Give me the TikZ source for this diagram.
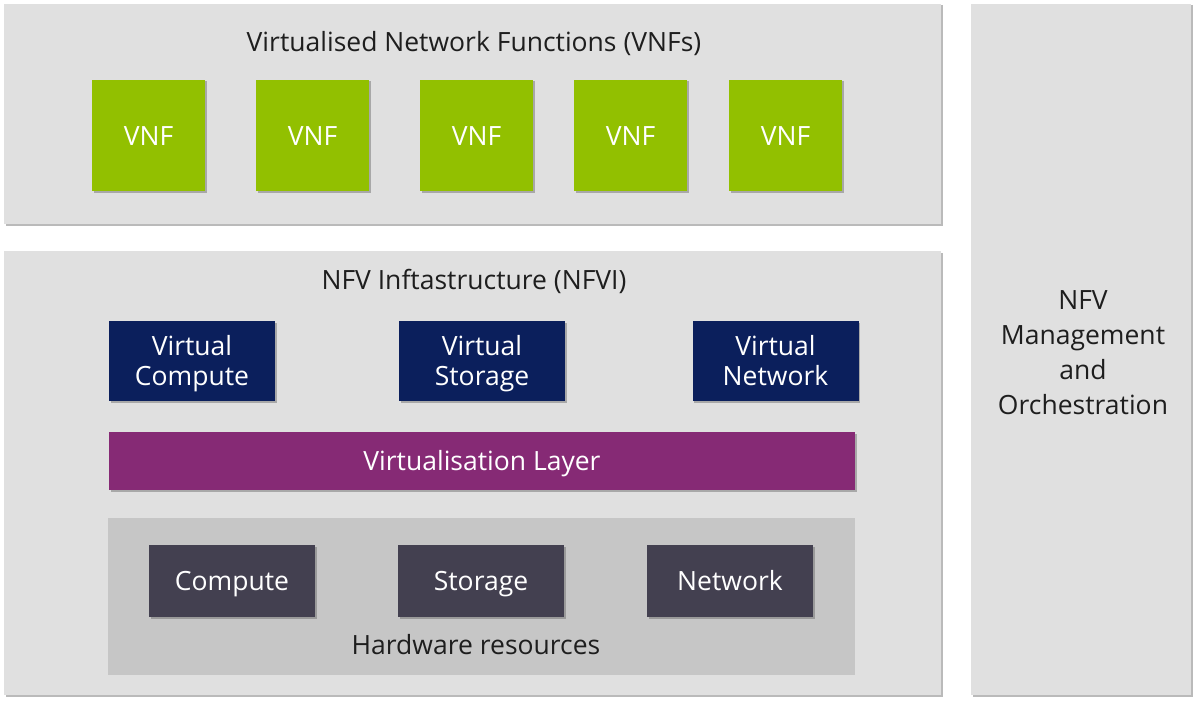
\documentclass[tikz,border=0pt]{standalone}
\usepackage{fontspec}
\setmainfont{Open Sans}
\usetikzlibrary{shadows}
\definecolor{panel}{HTML}{E0E0E0}
\definecolor{vnfgreen}{HTML}{92C000}
\definecolor{navy}{HTML}{0B1F5C}
\definecolor{vlpurple}{HTML}{862A75}
\definecolor{hwgray}{HTML}{C6C6C6}
\definecolor{hwdark}{HTML}{434050}
\definecolor{txt}{HTML}{1E1E1E}
\tikzset{
  shad/.style={drop shadow={shadow xshift=1.5pt,shadow yshift=-1.5pt,opacity=0.45,fill=black!60}},
  bigfont/.style={font=\fontsize{26.5}{29.5}\selectfont},
  capsmid/.style={text height=19pt,text depth=0pt},
  panelbox/.style={rectangle,fill=panel,inner sep=0pt,shad},
  vnfbox/.style={rectangle,fill=vnfgreen,inner sep=0pt,minimum width=113pt,minimum height=111pt,text=white,bigfont,capsmid,shad},
  virtbox/.style={rectangle,fill=navy,inner sep=0pt,minimum width=166pt,minimum height=80pt,text=white,align=center,bigfont,text depth=1pt,shad},
  hwbox/.style={rectangle,fill=hwdark,inner sep=0pt,minimum width=166pt,minimum height=72pt,text=white,bigfont,capsmid,shad},
  title/.style={text=txt,font=\fontsize{26.5}{35}\selectfont,align=center,inner sep=0pt},
}
\begin{document}
\begin{tikzpicture}[x=1pt,y=-1pt]
\useasboundingbox (0,0) rectangle (1200,701);
\fill[white] (0,0) rectangle (1200,701);
\node[panelbox,minimum width=937pt,minimum height=220pt] (vnfp) at (472.5,114) {};
\node[panelbox,minimum width=937pt,minimum height=444pt] (nfvi) at (472.5,473) {};
\node[panelbox,minimum width=220pt,minimum height=691pt] (mano) at (1081,349.5) {};
\node[title,capsmid] (vnft) at (474,42) {Virtualised Network Functions (VNFs)};
\node[title,capsmid] (nfvit) at (474,280) {NFV Inftastructure (NFVI)};
\node[title] (manot) at (1083,352.5) {NFV\\Management\\and\\Orchestration};
\node[vnfbox] (v1) at (148.5,135.5) {VNF};
\node[vnfbox] (v2) at (312.5,135.5) {VNF};
\node[vnfbox] (v3) at (476.5,135.5) {VNF};
\node[vnfbox] (v4) at (630.5,135.5) {VNF};
\node[vnfbox] (v5) at (785.5,135.5) {VNF};
\node[virtbox] (vc) at (192,361) {Virtual\\Compute};
\node[virtbox] (vs) at (482,361) {Virtual\\Storage};
\node[virtbox] (vn) at (775.5,361) {Virtual\\Network};
\node[rectangle,fill=vlpurple,inner sep=0pt,minimum width=746pt,minimum height=58pt,text=white,bigfont,capsmid,shad] (vl) at (482,461) {Virtualisation Layer};
\node[rectangle,fill=hwgray,inner sep=0pt,minimum width=747pt,minimum height=157pt] (hw) at (481.5,596.5) {};
\node[title,capsmid] (hwt) at (476,645) {Hardware resources};
\node[hwbox] (hc) at (232,581) {Compute};
\node[hwbox] (hs) at (481,581) {Storage};
\node[hwbox] (hn) at (730,581) {Network};
\end{tikzpicture}
\end{document}
